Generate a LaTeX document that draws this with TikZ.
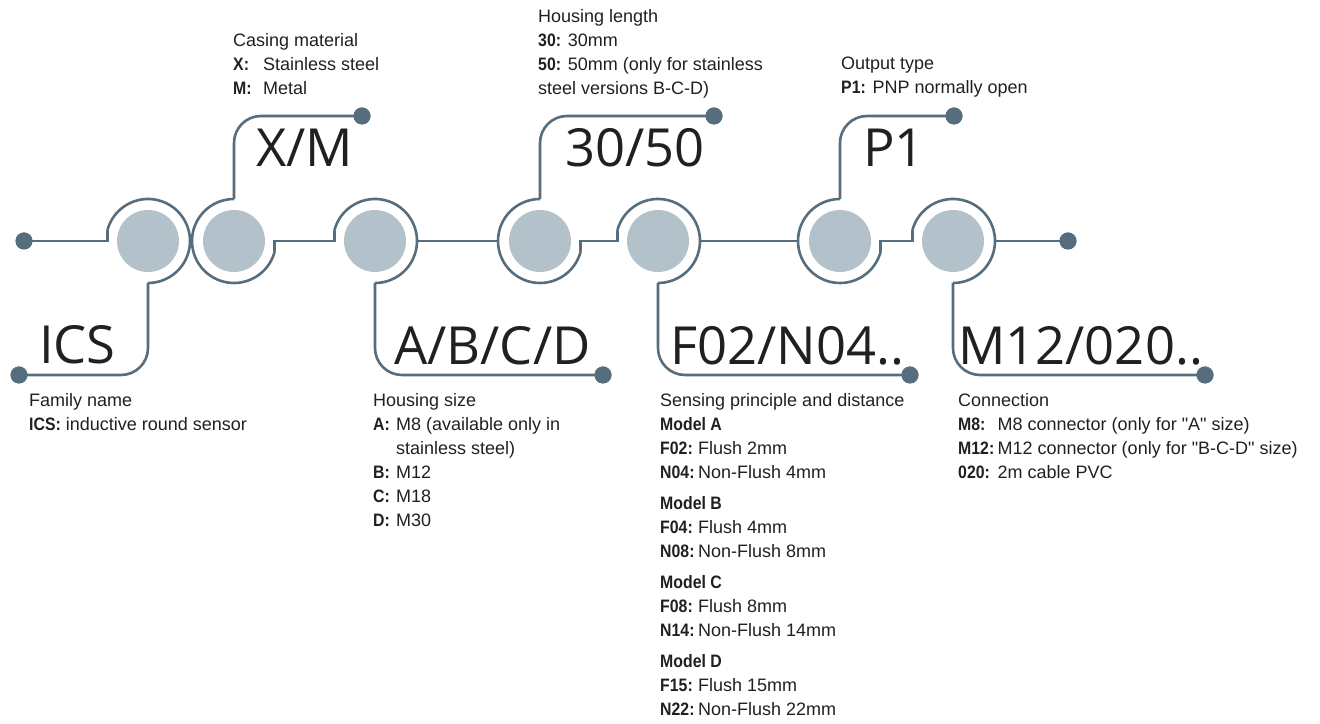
\documentclass[tikz,border=0pt]{standalone}
\usepackage{fontspec}
\setmainfont{Liberation Sans}[Ligatures=TeXOff, BoldFeatures={FakeStretch=0.88}]
\newfontfamily\bigf{Open Sans}
\usetikzlibrary{calc}
\definecolor{ln}{HTML}{566D7E}
\definecolor{discc}{HTML}{B2C1CA}
\definecolor{tx}{HTML}{231F20}
\newcommand\blk[1]{\begin{tabular}[t]{@{}l@{}}#1\end{tabular}}
\newcommand\tb[2]{\makebox[#1][l]{\textbf{#2}}}
\tikzset{
  ring/.style={draw=ln, line width=2.6pt},
  conn/.style={draw=ln, line width=2.6pt},
  discst/.style={circle, fill=discc, minimum size=62pt, inner sep=0pt},
  dotst/.style={circle, fill=ln, minimum size=17pt, inner sep=0pt},
  txt/.style={anchor=base west, inner sep=0pt, text=tx, font=\fontsize{18}{24}\selectfont},
  bigl/.style={anchor=base west, inner sep=0pt, text=tx, font=\bigf\fontsize{52.5}{60}\selectfont},
}
\begin{document}
\begin{tikzpicture}[x=1pt,y=1pt]
\useasboundingbox (0,0) rectangle (1320,723);
% centres
\coordinate (k1) at (148,482);
\coordinate (k2) at (234,482);
\coordinate (k3) at (375,482);
\coordinate (k4) at (540,482);
\coordinate (k5) at (658,482);
\coordinate (k6) at (840,482);
\coordinate (k7) at (953,482);
% notch points
\foreach \i in {1,3,5,7} {\coordinate (ln\i) at ($(k\i)+(166:42pt)$);}
\foreach \i in {2,4,6} {\coordinate (rn\i) at ($(k\i)+(-14:42pt)$);}
% dots
\node[dotst] (d0) at (24,482) {};
\node[dotst] (d1) at (19,348) {};
\node[dotst] (d2) at (362,607) {};
\node[dotst] (d3) at (603,348) {};
\node[dotst] (d4) at (714,607) {};
\node[dotst] (d5) at (910,348) {};
\node[dotst] (d6) at (954,607) {};
\node[dotst] (d7) at (1205,348) {};
\node[dotst] (d8) at (1068,482) {};
% rings
\foreach \i in {1,3,5,7} {\draw[ring] (ln\i) arc[start angle=166,end angle=-90,radius=42pt];}
\foreach \i in {2,4,6} {\draw[ring] ($(k\i)+(0,42pt)$) arc[start angle=90,end angle=346,radius=42pt];}
% discs
\foreach \i in {1,...,7} {\node[discst] (c\i) at (k\i) {};}
% middle connectors
\draw[conn] (d0.center) -- (ln1 |- k1) -- (ln1);
\draw[conn] (rn2) -- (rn2 |- k2) -- (ln3 |- k3) -- (ln3);
\draw[conn] ($(k3)+(42pt,0)$) -- ($(k4)+(-42pt,0)$);
\draw[conn] (rn4) -- (rn4 |- k4) -- (ln5 |- k5) -- (ln5);
\draw[conn] ($(k5)+(42pt,0)$) -- ($(k6)+(-42pt,0)$);
\draw[conn] (rn6) -- (rn6 |- k6) -- (ln7 |- k7) -- (ln7);
\draw[conn] ($(k7)+(42pt,0)$) -- (d8.center);
% top connectors
\draw[conn, rounded corners=27pt] ($(k2)+(0,42pt)$) -- (k2 |- d2) -- (d2.center);
\draw[conn, rounded corners=27pt] ($(k4)+(0,42pt)$) -- (k4 |- d4) -- (d4.center);
\draw[conn, rounded corners=27pt] ($(k6)+(0,42pt)$) -- (k6 |- d6) -- (d6.center);
% bottom connectors
\draw[conn, rounded corners=27pt] ($(k1)+(0,-42pt)$) -- (k1 |- d1) -- (d1.center);
\draw[conn, rounded corners=27pt] ($(k3)+(0,-42pt)$) -- (k3 |- d3) -- (d3.center);
\draw[conn, rounded corners=27pt] ($(k5)+(0,-42pt)$) -- (k5 |- d5) -- (d5.center);
\draw[conn, rounded corners=27pt] ($(k7)+(0,-42pt)$) -- (k7 |- d7) -- (d7.center);
% dots on top
\foreach \d in {d0,d1,d2,d3,d4,d5,d6,d7,d8} {\fill[ln] (\d) circle (8.5pt);}
% big labels
\node[bigl] (lICS) at (39,359) {ICS};
\node[bigl] (lXM) at (256,556) {X/M};
\node[bigl] (lABCD) at (394,358) {A/B/C/D};
\node[bigl] (l3050) at (565,556) {30/50};
\node[bigl] (lF) at (670,358) {F02/N04..};
\node[bigl] (lP) at (863,556) {P1};
\node[bigl] (lM) at (958,358) {M12/020..};
% descriptions
\node[txt] (tcase) at (233,676) {\blk{Casing material\\ \tb{30pt}{X:}Stainless steel\\ \tb{30pt}{M:}Metal}};
\node[txt] (tlen) at (538,700) {\blk{Housing length\\ \textbf{30:} 30mm\\ \textbf{50:} 50mm (only for stainless\\ steel versions B-C-D)}};
\node[txt] (tout) at (841,653) {\blk{Output type\\ \textbf{P1:} PNP normally open}};
\node[txt] (tfam) at (29,316) {\blk{Family name\\ \textbf{ICS:} inductive round sensor}};
\node[txt] (tsize) at (373,316) {\blk{Housing size\\ \tb{23pt}{A:}M8 (available only in\\ \hspace*{23pt}stainless steel)\\ \tb{23pt}{B:}M12\\ \tb{23pt}{C:}M18\\ \tb{23pt}{D:}M30}};
\node[txt] (tsens) at (660,316) {\blk{Sensing principle and distance\\ \textbf{Model A}\\ \tb{38pt}{F02:}Flush 2mm\\ \tb{38pt}{N04:}Non-Flush 4mm\\[7pt] \textbf{Model B}\\ \tb{38pt}{F04:}Flush 4mm\\ \tb{38pt}{N08:}Non-Flush 8mm\\[7pt] \textbf{Model C}\\ \tb{38pt}{F08:}Flush 8mm\\ \tb{38pt}{N14:}Non-Flush 14mm\\[7pt] \textbf{Model D}\\ \tb{38pt}{F15:}Flush 15mm\\ \tb{38pt}{N22:}Non-Flush 22mm}};
\node[txt] (tconn) at (958,316) {\blk{Connection\\ \tb{39.5pt}{M8:}M8 connector (only for "A" size)\\ \tb{39.5pt}{M12:}M12 connector (only for "B-C-D" size)\\ \tb{39.5pt}{020:}2m cable PVC}};
\end{tikzpicture}
\end{document}
